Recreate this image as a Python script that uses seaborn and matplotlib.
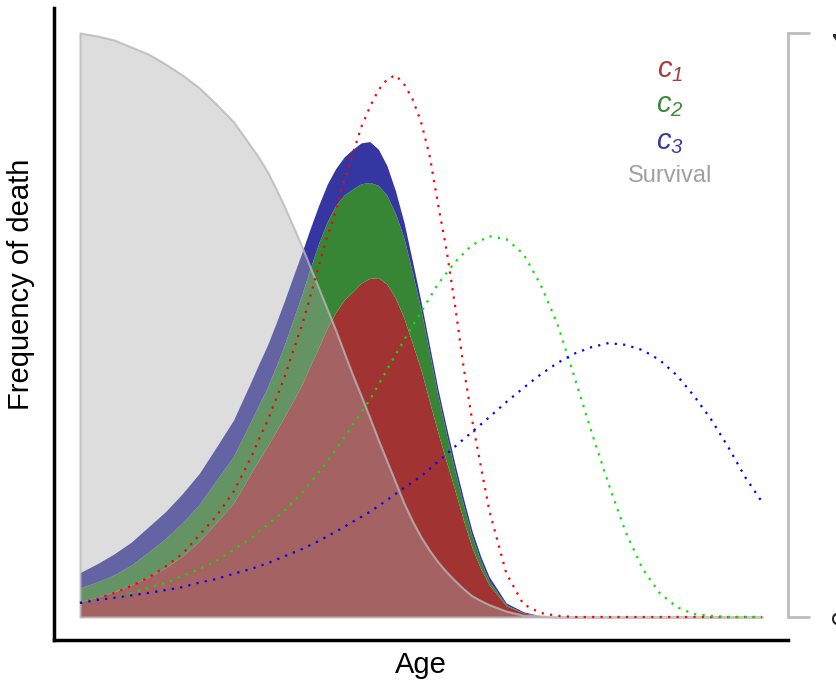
import matplotlib
matplotlib.use('Agg')
import numpy as np
import seaborn as sns
import matplotlib.pyplot as plt

# age grid (arbitrary units, 0..100); finer steps around the peaks
age = [0, 2.5, 5, 7.5, 10, 12.5, 15, 17.5, 20, 22.5, 25, 27.5, 30, 32.5, 35,
       37.5, 40, 42.5, 45, 47.5, 50, 52.5, 55, 57.5, 60, 62.5, 65, 67.5, 70,
       72.5, 75, 77.5, 80, 82.5, 85, 87.5, 90, 92.5, 95, 97.5, 100]
age_fine = [0, 2.5, 5, 7.5, 10, 12.5, 15, 17.5, 20, 22.5, 25,
            26.25, 27.5, 28.75, 30, 31.25, 32.5, 33.75, 35, 36.25, 37.5,
            38.75, 40, 41.25, 42.5, 43.75, 45, 46.25, 47.5, 48.75, 50, 51.25,
            52.5, 53.75, 55, 56.25, 57.5, 58.75, 60,
            62.5, 65, 67.5, 70, 72.5, 75, 77.5, 80, 82.5, 85, 87.5, 90, 92.5,
            95, 97.5, 100]

# stacked areas: deaths from each cause with competing risks (on age_fine)
area_c1 = [.026, .034, .043, .055, .068, .084, .104, .130, .162, .195, .245,
           .269, .293, .318, .344, .370, .397, .430, .462, .495, .522, .543,
           .557, .572, .580, .581, .570, .546, .512, .468, .423, .369, .315,
           .265, .216, .165, .118, .083, .055,
           .019, .007, .002] + [0] * 13
area_c2 = [.024, .026, .029, .034, .043, .050, .057, .063, .072, .080, .089,
           .095, .101, .111, .123, .139, .154, .167, .178, .182, .183, .180,
           .176, .170, .164, .158, .152, .145, .137, .121, .103, .083, .063,
           .047, .033, .026, .019, .013, .007,
           .002] + [0] * 15
area_c3 = [.026, .031, .036, .039, .043, .046, .050, .053, .057, .062, .067,
           .070, .072, .074, .075, .074, .072, .068, .065, .064, .063, .065,
           .068, .070, .070, .062, .051, .039, .027, .020, .014, .013, .012,
           .012, .012, .011, .010, .008, .007,
           .003, .002] + [0] * 14

survival = [1.0, .995, .988, .976, .964, .947, .928, .906, .878, .848, .807,
            .786, .762, .733, .702, .669, .635, .599, .563, .527, .491, .452,
            .414, .378, .341, .303, .267, .231, .195, .164, .137, .114, .094,
            .077, .062, .048, .036, .028, .021,
            .010, .003, .002] + [0] * 13

# dotted: each cause on its own
dens_c1 = [.024, .031, .041, .053, .067, .086, .108, .140, .173, .214, .271,
           .305, .336, .373, .411, .455, .498, .548, .601, .651, .695, .747,
           .793, .839, .873, .902, .920, .928, .913, .887, .848, .791, .707,
           .628, .533, .428, .337, .260, .183,
           .075, .022, .007, .002] + [0] * 12
dens_c2 = [.024, .029, .034, .041, .050, .058, .070, .082, .096, .115, .134,
           .158, .182, .212, .247, .286, .329, .372, .423, .474, .522, .570,
           .608, .637, .652, .647, .622, .570, .502, .411, .317, .228, .146,
           .082, .041, .017, .005, .002, 0, 0, 0]
dens_c3 = [.024, .029, .033, .037, .041, .046, .051, .059, .065, .074, .082,
           .092, .104, .116, .130, .146, .163, .180, .200, .221, .241, .266,
           .292, .317, .342, .368, .392, .415, .435, .451, .462, .469, .466,
           .457, .440, .414, .379, .339, .292, .240, .197]

sns.set_style('white')
plt.rcParams['font.family'] = ['Liberation Sans', 'DejaVu Sans']
plt.rcParams['text.color'] = 'black'
plt.rcParams['axes.labelcolor'] = 'black'
plt.rcParams['mathtext.fontset'] = 'custom'
plt.rcParams['mathtext.it'] = 'Liberation Sans:italic'
plt.rcParams['mathtext.rm'] = 'Liberation Sans:italic'

fig = plt.figure(figsize=(8.36, 6.86), dpi=100)
ax = fig.add_axes([54 / 836, 46 / 686, 734 / 836, 632 / 686])

top1 = np.array(area_c1)
top2 = top1 + np.array(area_c2)
top3 = top2 + np.array(area_c3)
ax.fill_between(age_fine, 0, top1, color='#A23333', lw=0)
ax.fill_between(age_fine, top1, top2, color='#368636', lw=0)
ax.fill_between(age_fine, top2, top3, color='#3636A2', lw=0)

dots = (0, (1, 2.8))
sns.lineplot(x=age_fine, y=dens_c1, ax=ax, color='#FF0000', lw=1.6, linestyle=dots)
sns.lineplot(x=age, y=dens_c2, ax=ax, color='#00E600', lw=1.6, linestyle=dots)
sns.lineplot(x=age, y=dens_c3, ax=ax, color='#0000FF', lw=1.6, linestyle=dots)

ax.fill_between(age_fine, 0, survival, facecolor=(0.67, 0.67, 0.67, 0.4),
                edgecolor=(0.72, 0.72, 0.72, 0.8), lw=1.5)

ax.set_xlim(-3.81, 103.81)
ax.set_ylim(-0.0394, 1.0428)
ax.set_xticks([])
ax.set_yticks([])
for s in ['top', 'right']:
    ax.spines[s].set_visible(False)
for s in ['left', 'bottom']:
    ax.spines[s].set_color('black')
    ax.spines[s].set_linewidth(2.5)
ax.set_xlabel('Age', fontsize=21, labelpad=8)
ax.set_ylabel('Frequency of death', fontsize=21, labelpad=14, y=0.563)

# legend as coloured text
ax.text(86.5, 0.937, r'$c_1$', color='#A83A3A', fontsize=21, ha='center', va='center')
ax.text(86.5, 0.877, r'$c_2$', color='#3A8A3A', fontsize=21, ha='center', va='center')
ax.text(86.5, 0.814, r'$c_3$', color='#3A3AA8', fontsize=21, ha='center', va='center')
ax.text(86.5, 0.755, 'Survival', color='#A0A0A0', fontsize=17, ha='center', va='center')

# survival axis on the right
ax2 = ax.twinx()
ax2.set_ylim(ax.get_ylim())
for s in ['left', 'top', 'bottom']:
    ax2.spines[s].set_visible(False)
ax2.spines['right'].set_bounds(0, 1)
ax2.spines['right'].set_color('#BDBDBD')
ax2.spines['right'].set_linewidth(2)
ax2.set_yticks([0, 1])
ax2.set_yticklabels(['0', '1'], rotation=90, va='center')
ax2.tick_params(axis='y', length=16, width=2, color='#BDBDBD', labelsize=21, pad=14)

fig.savefig('out.png', dpi=100)
